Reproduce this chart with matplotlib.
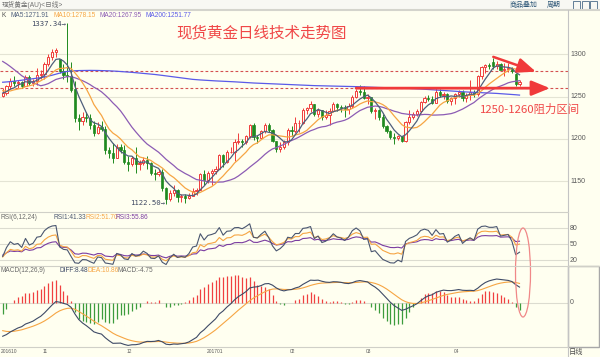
import numpy as np
import matplotlib
matplotlib.use("Agg")
import matplotlib.pyplot as plt
from matplotlib.patches import Rectangle, Ellipse
from matplotlib.lines import Line2D

plt.rcParams['font.family'] = ['Liberation Sans', 'Noto Sans CJK SC', 'DejaVu Sans']

# ---------------- data ----------------
hist_closes = [1340, 1346, 1349, 1350, 1341, 1337, 1340, 1325, 1323, 1321, 1324, 1312, 1308, 1313,
               1324, 1327, 1350, 1349, 1336, 1328, 1328, 1322, 1322, 1311, 1310, 1314, 1318, 1334,
               1336, 1338, 1338, 1327, 1322, 1321, 1316, 1312, 1268, 1266, 1253, 1257, 1255, 1253,
               1255, 1258, 1251]

opens = [1251, 1254, 1262, 1269, 1266, 1267, 1263, 1273, 1266, 1268, 1276,
         1277, 1288, 1297, 1303, 1294, 1280, 1275, 1274, 1259, 1225, 1221, 1226, 1225, 1216,
         1207, 1214, 1212, 1187, 1183, 1178, 1191, 1187,
         1173, 1170, 1177, 1170, 1171, 1175, 1171, 1160, 1159, 1161, 1142, 1129, 1136, 1140,
         1131, 1132, 1130, 1133, 1139, 1140, 1158,
         1151, 1160, 1162, 1165, 1181, 1173, 1184, 1185, 1196, 1197, 1196, 1203, 1216, 1202,
         1201, 1209, 1217, 1210, 1198, 1188, 1191, 1196,
         1210, 1209, 1219, 1219, 1234, 1236, 1241, 1229, 1234, 1226, 1228, 1233, 1241, 1238,
         1237, 1235, 1239, 1250, 1257, 1255,
         1248, 1249, 1233, 1234, 1226, 1215, 1209, 1202, 1201, 1203, 1198, 1220, 1226, 1229,
         1233, 1244, 1248, 1247, 1243, 1256, 1252, 1253, 1245,
         1248, 1253, 1256, 1248, 1252, 1255, 1253, 1274, 1285, 1287, 1291, 1286, 1288, 1282,
         1283, 1283, 1277, 1265]
highs = [1260, 1264, 1272, 1274, 1270, 1268, 1276, 1275, 1271, 1284, 1281,
         1291, 1300, 1306, 1308, 1295, 1289, 1337.34, 1291, 1268, 1230, 1232, 1232, 1230, 1221,
         1220, 1221, 1215, 1191, 1195, 1194, 1194, 1193,
         1180, 1180, 1190, 1175, 1179, 1180, 1173, 1164, 1165, 1165, 1143, 1140, 1145, 1141,
         1135, 1135, 1136, 1142, 1142, 1160, 1163,
         1162, 1165, 1168, 1182, 1182, 1187, 1191, 1200, 1207, 1200, 1205, 1218, 1219, 1205,
         1211, 1219, 1219, 1212, 1198, 1196, 1199, 1213,
         1215, 1226, 1222, 1236, 1238, 1245, 1241, 1237, 1234, 1234, 1236, 1244, 1242, 1240,
         1240, 1242, 1252, 1259, 1264, 1263,
         1253, 1250, 1236, 1235, 1229, 1217, 1210, 1207, 1205, 1204, 1221, 1234, 1232, 1235,
         1245, 1251, 1252, 1251, 1261, 1259, 1256, 1254, 1250,
         1254, 1258, 1258, 1254, 1270, 1258, 1275, 1286, 1289, 1290, 1296, 1292, 1290, 1290,
         1290, 1285, 1278, 1270]
lows = [1249, 1252, 1259, 1263, 1260, 1260, 1262, 1264, 1262, 1264, 1271,
        1271, 1286, 1293, 1297, 1278, 1271, 1267, 1256, 1220, 1211, 1216, 1220, 1212, 1204,
        1206, 1209, 1182, 1177, 1171, 1177, 1183, 1170,
        1162, 1168, 1160, 1163, 1169, 1165, 1157, 1152, 1156, 1139, 1122.5, 1127, 1133, 1125,
        1126, 1124, 1129, 1133, 1134, 1140, 1145,
        1148, 1146, 1159, 1164, 1167, 1172, 1183, 1174, 1194, 1191, 1194, 1201, 1199, 1195,
        1200, 1207, 1208, 1196, 1184, 1184, 1188, 1193,
        1203, 1207, 1208, 1218, 1229, 1232, 1227, 1226, 1222, 1223, 1216, 1232, 1233, 1232,
        1226, 1230, 1236, 1248, 1252, 1247,
        1241, 1231, 1224, 1222, 1213, 1207, 1200, 1194, 1199, 1196, 1196, 1218, 1224, 1227,
        1231, 1243, 1245, 1241, 1243, 1250, 1247, 1242, 1240,
        1241, 1250, 1245, 1244, 1246, 1249, 1251, 1271, 1278, 1283, 1283, 1283, 1283, 1274,
        1279, 1278, 1263, 1262]
closes = [1254, 1262, 1269, 1266, 1267, 1263, 1273, 1266, 1268, 1276, 1277,
          1288, 1297, 1303, 1305, 1280, 1275, 1274, 1258, 1225, 1221, 1226, 1225, 1216, 1207,
          1214, 1212, 1187, 1183, 1178, 1191, 1187, 1173,
          1170, 1177, 1170, 1171, 1175, 1171, 1160, 1159, 1161, 1142, 1129, 1136, 1140, 1131,
          1132, 1130, 1133, 1139, 1140, 1158, 1151,
          1160, 1162, 1165, 1181, 1173, 1184, 1185, 1196, 1197, 1196, 1203, 1216, 1202, 1201,
          1209, 1217, 1210, 1198, 1188, 1191, 1196, 1210,
          1209, 1219, 1219, 1234, 1236, 1241, 1229, 1234, 1226, 1228, 1233, 1241, 1238, 1237,
          1235, 1239, 1250, 1257, 1255, 1248,
          1249, 1233, 1234, 1226, 1215, 1209, 1202, 1201, 1203, 1198, 1220, 1226, 1229, 1233,
          1244, 1248, 1247, 1243, 1256, 1252, 1253, 1245, 1248,
          1253, 1256, 1248, 1252, 1255, 1253, 1274, 1285, 1287, 1286, 1286, 1288, 1282, 1283,
          1284, 1280, 1265, 1267]

ma200 = [1267.0, 1267.3, 1267.7, 1268.2, 1268.8, 1269.4, 1270.0, 1270.6, 1271.2, 1271.8, 1272.4,
         1273.2, 1274.2, 1275.3, 1276.5, 1277.8, 1279.0,
         1279.8, 1280.3, 1280.6, 1280.8, 1280.9, 1281.0, 1281.0, 1281.0, 1280.9, 1280.8, 1280.7,
         1280.5, 1280.3, 1280.0, 1279.7,
         1279.3, 1279.0, 1278.7, 1278.3, 1277.9, 1277.5, 1277.1, 1276.7, 1276.2, 1275.7, 1275.1,
         1274.5, 1273.9, 1273.3, 1272.7, 1272.1, 1271.5, 1270.9, 1270.4,
         1270.0, 1269.7, 1269.4, 1269.1, 1268.8, 1268.6, 1268.4, 1268.2, 1268.0, 1267.8, 1267.5,
         1267.2, 1266.9, 1266.6, 1266.3,
         1266.1, 1265.9, 1265.7, 1265.5, 1265.3, 1265.1, 1264.9, 1264.7, 1264.5, 1264.3, 1264.1,
         1263.9, 1263.7, 1263.5, 1263.3, 1263.1,
         1263.0, 1262.9, 1262.8, 1262.7, 1262.6, 1262.5, 1262.4, 1262.3, 1262.2, 1262.1, 1262.0,
         1261.9, 1261.7, 1261.5, 1261.3, 1261.1,
         1260.9, 1260.8, 1260.7, 1260.6, 1260.5, 1260.4, 1260.3, 1260.1, 1259.9, 1259.7, 1259.5,
         1259.3, 1259.0,
         1258.7, 1258.4, 1258.1, 1257.8, 1257.5, 1257.2, 1256.9, 1256.6, 1256.3, 1256.0,
         1255.7, 1255.5, 1255.3, 1255.1, 1254.9, 1254.7, 1254.5, 1254.3, 1254.1, 1253.8, 1253.5,
         1253.2, 1252.9, 1252.6, 1252.2, 1251.8]

month_labels = ['201610', '11', '12', '201701', '02', '03', '04']
month_index = [0, 11, 33, 54, 76, 96, 119]
price_ticks = [1150, 1200, 1250, 1300]
rsi_ticks = [20, 50, 80]
resist_levels = [1260, 1280]
high_mark = (17, 1337.34)
low_mark = (43, 1122.50)

title = '现货黄金日线技术走势图'
zone_text = '1250-1260阻力区间'

# ---------------- indicators ----------------
allc = np.array(hist_closes + closes, dtype=float)
nh = len(hist_closes)
n = len(closes)
x = np.arange(n)

def sma_ma(arr, k):
    out = np.full(len(arr), np.nan)
    for i in range(k - 1, len(arr)):
        out[i] = arr[i - k + 1:i + 1].mean()
    return out

ma5 = sma_ma(allc, 5)[nh:]
ma10 = sma_ma(allc, 10)[nh:]
ma20 = sma_ma(allc, 20)[nh:]

def ema(arr, k):
    out = np.zeros(len(arr))
    out[0] = arr[0]
    a = 2.0 / (k + 1)
    for i in range(1, len(arr)):
        out[i] = a * arr[i] + (1 - a) * out[i - 1]
    return out

diff_all = ema(allc, 12) - ema(allc, 26)
dea_all = ema(diff_all, 9)
diff = diff_all[nh:]
dea = dea_all[nh:]
macd = 2 * (diff - dea)

def rsi_cn(arr, k):
    d = np.diff(arr, prepend=arr[0])
    up = np.maximum(d, 0)
    ab = np.abs(d)
    su = 0.0
    sa = 0.0
    out = np.zeros(len(arr))
    for i in range(len(arr)):
        su = (up[i] + (k - 1) * su) / k
        sa = (ab[i] + (k - 1) * sa) / k
        out[i] = 100 * su / sa if sa > 0 else 50
    return out

rsi1 = rsi_cn(allc, 6)[nh:]
rsi2 = rsi_cn(allc, 12)[nh:]
rsi3 = rsi_cn(allc, 24)[nh:]

# ---------------- figure ----------------
W, H = 600, 357
bg = '#fffff0'
red = '#f03c3c'
green = '#1f8a1f'
c_ma5 = '#4f5f7c'
c_ma10 = '#f6a543'
c_ma20 = '#8c5cb4'
c_ma200 = '#5a5ae8'
gridc = '#e4e4d4'
txtc = '#5a5a5a'

fig = plt.figure(figsize=(6, 3.57), dpi=100)
fig.patch.set_facecolor(bg)

def fy(ypx):
    return 1 - ypx / H

def fx(xpx):
    return xpx / W

def ftxt(xp, yp, s, **kw):
    kw.setdefault('va', 'center')
    kw.setdefault('ha', 'left')
    fig.text(fx(xp), fy(yp), s, **kw)

def fline(x0, y0, x1, y1, **kw):
    fig.add_artist(Line2D([fx(x0), fx(x1)], [fy(y0), fy(y1)], transform=fig.transFigure, **kw))

right = 568
ax_p = fig.add_axes([0, fy(212), fx(right), (212 - 10) / H])
ax_r = fig.add_axes([0, fy(266), fx(right), (266 - 212) / H])
ax_m = fig.add_axes([0, fy(347), fx(right), (347 - 266) / H])

xmin = -0.71
xmax = 148.76
for ax in (ax_p, ax_r, ax_m):
    ax.set_facecolor(bg)
    ax.set_xlim(xmin, xmax)
    for s in ax.spines.values():
        s.set_visible(False)
    ax.set_xticks([])
    ax.set_yticks([])

# price panel
ax_p.set_ylim(1113.6, 1352.4)
for t in price_ticks:
    ax_p.axhline(t, color=gridc, lw=0.8, zorder=0)
for lv in resist_levels:
    ax_p.axhline(lv, color='#d45050', lw=0.8, ls=(0, (2.5, 2)), zorder=1)

bw = 0.62
for i in range(n):
    o, h, l, c = opens[i], highs[i], lows[i], closes[i]
    if c >= o:
        ax_p.vlines(i, l, h, color=red, lw=0.7, zorder=3)
        ax_p.add_patch(Rectangle((i - bw / 2, o), bw, max(c - o, 0.4), facecolor=bg,
                                 edgecolor=red, lw=0.7, zorder=4))
    else:
        ax_p.vlines(i, l, h, color=green, lw=0.7, zorder=3)
        ax_p.add_patch(Rectangle((i - bw / 2, c), bw, o - c, facecolor=green,
                                 edgecolor=green, lw=0.5, zorder=4))

ax_p.plot(x, ma200, color=c_ma200, lw=0.9, zorder=5)
ax_p.plot(x, ma20, color=c_ma20, lw=0.9, zorder=5)
ax_p.plot(x, ma10, color=c_ma10, lw=0.9, zorder=5)
ax_p.plot(x, ma5, color=c_ma5, lw=0.9, zorder=5)

# extreme markers
ax_p.annotate('1337.34\u2192', xy=high_mark, xytext=(high_mark[0] - 0.4, high_mark[1] - 1.5),
              ha='right', va='center', fontsize=5.2, color='#3c4660', family='DejaVu Sans Mono')
ax_p.annotate('1122.50\u2192', xy=low_mark, xytext=(low_mark[0] - 0.3, low_mark[1] + 1.5),
              ha='right', va='center', fontsize=5.2, color='#3c4660', family='DejaVu Sans Mono')

# red arrows
ax_p.annotate('', xy=(144.0, 1260), xytext=(93, 1260), annotation_clip=False,
              arrowprops=dict(arrowstyle='-|>,head_length=1.1,head_width=0.45', color='#f03a3a',
                              lw=2.0, mutation_scale=10, shrinkA=0, shrinkB=0), zorder=6)
ax_p.annotate('', xy=(140.3, 1279.5), xytext=(129.1, 1297), annotation_clip=False,
              arrowprops=dict(arrowstyle='-|>,head_length=1.1,head_width=0.45', color='#f03a3a',
                              lw=1.8, mutation_scale=10, shrinkA=0, shrinkB=0), zorder=6)

# RSI panel
ax_r.set_ylim(9.3, 110.6)
for t in rsi_ticks:
    ax_r.axhline(t, color='#dcdcd0', lw=0.8, zorder=0)
ax_r.plot(x, rsi3, color='#7a3ca0', lw=0.8)
ax_r.plot(x, rsi2, color=c_ma10, lw=0.8)
ax_r.plot(x, rsi1, color='#4a5670', lw=0.8)

# MACD panel
mn = diff.min()
ax_m.set_ylim(mn * (347.3 - 302.7) / (345.7 - 302.7), -mn * (302.7 - 266) / (345.7 - 302.7))
ax_m.axhline(0, color='#dcdcd0', lw=0.8, zorder=0)
cols = np.where(macd >= 0, '#f04040', '#3c9c3c')
ax_m.vlines(x, 0, macd, colors=cols, lw=0.9)
ax_m.plot(x, dea, color=c_ma10, lw=0.8)
ax_m.plot(x, diff, color='#3e4a66', lw=0.8)

# ---------------- frame / header ----------------
fig.add_artist(Rectangle((0, fy(10)), 1, 10 / H, transform=fig.transFigure,
                         facecolor='#f8f8f3', edgecolor='none'))
fline(0, 10, 600, 10, color='#d4d4cc', lw=1.5)
fline(right, 10, right, 357, color='#c4c4c4', lw=0.8)
fline(0, 212, right, 212, color='#d0d0c8', lw=0.8)
fline(0, 266, 600, 266, color='#d0d0c8', lw=0.8)
fline(0, 347, right, 347, color='#d0d0c8', lw=0.8)
fig.add_artist(Rectangle((fx(right), fy(347)), fx(600 - right) - 0.002, (347 - 266) / H,
                         transform=fig.transFigure, facecolor='none', edgecolor='#a8a8a8', lw=1.0))

ftxt(2, 4.5, '现货黄金(AU)<日线>', fontsize=4.8, color='#707070')
ftxt(510, 5, '商品叠加', fontsize=5.0, color='#2f5878')
ftxt(547, 5, '周期', fontsize=5.0, color='#2f5878')
for k in range(3):
    fig.add_artist(Rectangle((fx(573 + k * 8.5), fy(8.5)), fx(7), 7 / H, transform=fig.transFigure,
                             facecolor='none', edgecolor='#4a6a88', lw=0.6))

# legends
lfs = 4.7
ftxt(1.5, 15.5, 'K', fontsize=lfs, color='#505050')
ftxt(10.5, 15.5, 'MA5:1271.91', fontsize=lfs, color=c_ma5)
ftxt(53, 15.5, 'MA10:1278.15', fontsize=lfs, color=c_ma10)
ftxt(99.5, 15.5, 'MA20:1267.95', fontsize=lfs, color=c_ma20)
ftxt(145.5, 15.5, 'MA200:1251.77', fontsize=lfs, color=c_ma200)

ftxt(0.7, 217.3, 'RSI(6,12,24)', fontsize=lfs, color='#6a6a6a')
ftxt(53, 217.3, 'RSI1:41.33', fontsize=lfs, color='#4a5670')
ftxt(86, 217.3, 'RSI2:51.70', fontsize=lfs, color=c_ma10)
ftxt(116, 217.3, 'RSI3:55.86', fontsize=lfs, color='#7a3ca0')

ftxt(0.7, 270.7, 'MACD(12,26,9)', fontsize=lfs, color='#6a6a6a')
ftxt(60, 270.7, 'DIFF:8.48', fontsize=lfs, color='#3e4a66')
ftxt(88, 270.7, 'DEA:10.86', fontsize=lfs, color=c_ma10)
ftxt(117, 270.7, 'MACD:-4.75', fontsize=lfs, color='#6a6a6a')

# axis labels
for t in price_ticks:
    ypx = 54.3 + (1300 - t) * 0.846
    ftxt(570, ypx, str(t), fontsize=5.0, color=txtc)
for t in rsi_ticks:
    ypx = 260.3 - (t - 20) * 0.5333
    ftxt(570, ypx, str(t), fontsize=5.0, color=txtc)
ftxt(570, 302.7, '0', fontsize=5.0, color=txtc)
for lab, idx in zip(month_labels, month_index):
    xp = 2.7 + 3.8 * idx - 1.6
    ftxt(max(xp, 0.5), 351.8, lab, fontsize=3.5, color=txtc)
ftxt(569, 351.8, '日线', fontsize=5.2, color='#505050', family=['Noto Sans CJK SC'])

# annotations text
ftxt(176, 33, title, fontsize=11.2, color='#f04848', family=['Noto Sans CJK SC'])
ftxt(480, 109, zone_text, fontsize=8.2, color='#f04848', family=['Noto Sans CJK SC'])

fig.add_artist(Ellipse((fx(523), fy(272.5)), fx(15), 89 / H, transform=fig.transFigure,
                       facecolor='none', edgecolor='#f08888', lw=0.9))

fig.savefig('out.png', dpi=100, facecolor=bg)
